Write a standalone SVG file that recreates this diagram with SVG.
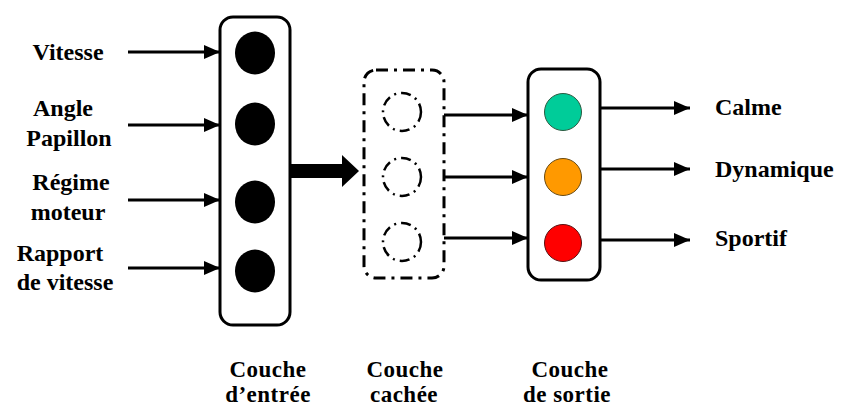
<svg xmlns="http://www.w3.org/2000/svg" width="848" height="410" viewBox="0 0 848 410">
<style>
text{font-family:'Liberation Serif','Times New Roman',Times,'DejaVu Serif',serif;font-weight:700;font-size:24px;fill:#000}
.lay{font-size:23px;letter-spacing:0.5px}
.box{fill:#fff;stroke:#000;stroke-width:3}
.hbox{fill:none;stroke:#000;stroke-width:3;stroke-dasharray:12 6 3 6}
.hn{fill:none;stroke:#000;stroke-width:2.5;stroke-dasharray:10 5 2 5}
.in{fill:#000}
.ln{stroke:#000;stroke-width:3;fill:none}
.c{text-anchor:middle}
</style>
<defs>
<marker id="ah" markerWidth="16" markerHeight="14" refX="16" refY="7" orient="auto" markerUnits="userSpaceOnUse">
<path d="M0,0 L16,7 L0,14 Z" fill="#000"/>
</marker>
</defs>
<g id="input-labels" font-family="Liberation Serif, serif">
<text x="68" y="60" class="c">Vitesse</text>
<text x="63" y="116" class="c">Angle</text>
<text x="69" y="146" class="c">Papillon</text>
<text x="71" y="190" class="c">Régime</text>
<text x="68" y="220" class="c">moteur</text>
<text x="60" y="261" class="c">Rapport</text>
<text x="65" y="290" class="c">de vitesse</text>
</g>
<g id="input-layer">
<rect class="box" x="220" y="17" width="70" height="308" rx="13"/>
<ellipse class="in" cx="255" cy="53" rx="20" ry="21.5"/>
<ellipse class="in" cx="255" cy="124" rx="20" ry="21.5"/>
<ellipse class="in" cx="255" cy="202" rx="20" ry="21.5"/>
<ellipse class="in" cx="255" cy="271" rx="20" ry="21.5"/>
</g>
<g id="hidden-layer">
<rect class="hbox" x="364" y="70" width="80" height="208" rx="12"/>
<circle class="hn" cx="402" cy="112" r="19"/>
<circle class="hn" cx="402" cy="177" r="19"/>
<circle class="hn" cx="402" cy="242" r="19"/>
</g>
<g id="output-layer">
<rect class="box" x="528" y="69" width="72" height="211" rx="13"/>
<circle cx="563" cy="112" r="18.5" fill="#00CC99" stroke="#2a5a40" stroke-width="1"/>
<circle cx="563" cy="177" r="18.5" fill="#FF9900" stroke="#6a4a10" stroke-width="1"/>
<circle cx="563" cy="243" r="18.5" fill="#FF0000" stroke="#5a1010" stroke-width="1"/>
</g>
<g id="output-labels">
<text x="715" y="115">Calme</text>
<text x="715" y="177">Dynamique</text>
<text x="715" y="246">Sportif</text>
</g>
<g id="layer-labels">
<text x="268" y="377" class="c lay">Couche</text>
<text x="268" y="402" class="c lay">d’entrée</text>
<text x="405" y="377" class="c lay">Couche</text>
<text x="404" y="402" class="c lay">cachée</text>
<text x="570" y="377" class="c lay">Couche</text>
<text x="567" y="402" class="c lay">de sortie</text>
</g>
<g id="connectors">
<line class="ln" x1="128" y1="52" x2="220" y2="52" marker-end="url(#ah)"/>
<line class="ln" x1="128" y1="125" x2="220" y2="125" marker-end="url(#ah)"/>
<line class="ln" x1="128" y1="200" x2="220" y2="200" marker-end="url(#ah)"/>
<line class="ln" x1="128" y1="268" x2="220" y2="268" marker-end="url(#ah)"/>
<path d="M290,164 L342,164 L342,155 L359,171 L342,187 L342,178 L290,178 Z" fill="#000"/>
<line class="ln" x1="444" y1="115" x2="528" y2="115" marker-end="url(#ah)"/>
<line class="ln" x1="444" y1="177" x2="528" y2="177" marker-end="url(#ah)"/>
<line class="ln" x1="444" y1="238" x2="528" y2="238" marker-end="url(#ah)"/>
<line class="ln" x1="600" y1="108" x2="690" y2="108" marker-end="url(#ah)"/>
<line class="ln" x1="600" y1="169" x2="690" y2="169" marker-end="url(#ah)"/>
<line class="ln" x1="600" y1="240" x2="690" y2="240" marker-end="url(#ah)"/>
</g>
</svg>
